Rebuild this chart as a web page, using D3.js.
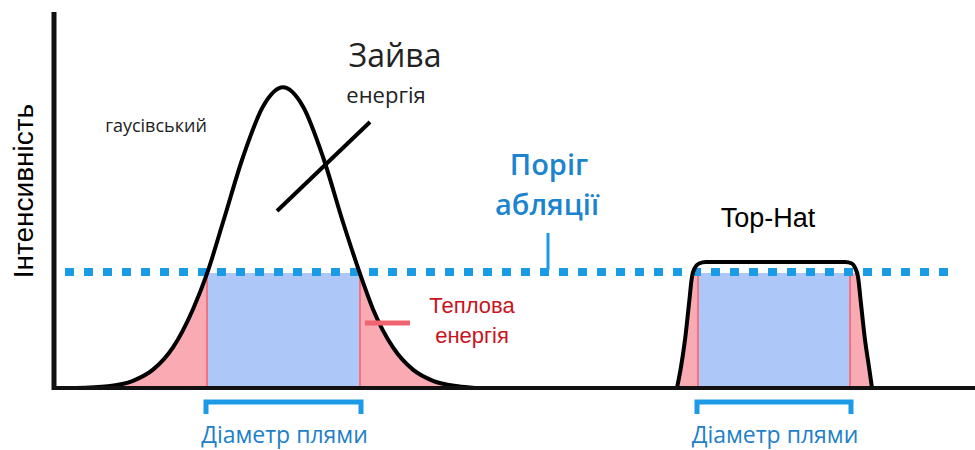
<!DOCTYPE html>
<html><head><meta charset="utf-8">
<script src="https://cdn.jsdelivr.net/npm/d3@7"></script>
<style>html,body{margin:0;padding:0;background:#fff;}svg{display:block;}</style>
</head><body>
<svg id="chart" width="975" height="450"></svg>
<script>
// ---- data (x: position, y: relative intensity) ----
const gaussX = [20, 53, 78, 98, 118, 138, 152, 168, 188, 208, 228, 248, 268, 288, 305, 318, 338, 358, 378, 403, 420];
const gaussY = [0, 0.006, 0.024, 0.061, 0.135, 0.262, 0.38, 0.551, 0.768, 0.936, 1.0, 0.936, 0.768, 0.551, 0.38, 0.262, 0.135, 0.061, 0.024, 0.006, 0];
const hatX = [622, 626, 630, 634, 637, 640, 644, 651, 720, 790, 797, 800, 803, 806, 810, 814, 817];
const hatY = [0, 0.07, 0.16, 0.28, 0.37, 0.400, 0.414, 0.419, 0.419, 0.419, 0.414, 0.400, 0.37, 0.28, 0.16, 0.07, 0];
const threshold = 0.382;
const spotGauss = [152, 305];
const spotHat = [643, 795];
const axisLabel = "Інтенсивність";
const labels = {
  gauss: "гаусівський", excess1: "Зайва", excess2: "енергія",
  thr1: "Поріг", thr2: "абляції", hat: "Top-Hat",
  heat1: "Теплова", heat2: "енергія", spot: "Діаметр плями"
};

const svg = d3.select("#chart");
const x = d3.scaleLinear().domain([0, 920]).range([55, 975]);
const y = d3.scaleLinear().domain([0, 1.25]).range([388, 12]);

const blueDash = "#1b9ae6", pinkFill = "#f9aab3", pinkEdge = "#f27480", blueFill = "#adc8f8";

svg.append("clipPath").attr("id", "below")
  .append("rect").attr("x", 0).attr("y", y(threshold)).attr("width", 975).attr("height", y(0) - y(threshold));

const gauss = gaussX.map((d, i) => [d, gaussY[i]]);
const hat = hatX.map((d, i) => [d, hatY[i]]);

const area = d3.area().x(d => x(d[0])).y0(y(0)).y1(d => y(d[1])).curve(d3.curveMonotoneX);
const line = d3.line().x(d => x(d[0])).y(d => y(d[1])).curve(d3.curveMonotoneX);

[gauss, hat].forEach(s => {
  svg.append("path").datum(s).attr("d", area).attr("fill", pinkFill).attr("clip-path", "url(#below)");
});
[spotGauss, spotHat].forEach(s => {
  svg.append("rect").attr("x", x(s[0])).attr("y", y(threshold)).attr("width", x(s[1]) - x(s[0]))
    .attr("height", y(0) - y(threshold)).attr("fill", blueFill);
  s.forEach(v => svg.append("line").attr("x1", x(v)).attr("x2", x(v)).attr("y1", y(threshold)).attr("y2", y(0))
    .attr("stroke", pinkEdge).attr("stroke-width", 2));
});

svg.append("line").attr("x1", x(10)).attr("x2", x(896)).attr("y1", y(threshold) - 1).attr("y2", y(threshold) - 1)
  .attr("stroke", blueDash).attr("stroke-width", 8).attr("stroke-dasharray", "9,10");

[gauss, hat].forEach(s => {
  svg.append("path").datum(s).attr("d", line).attr("fill", "none").attr("stroke", "#000")
    .attr("stroke-width", 4).attr("stroke-linejoin", "round").attr("stroke-linecap", "round");
});

svg.append("line").attr("x1", x(0) - 1).attr("x2", x(0) - 1).attr("y1", y(1.25)).attr("y2", y(0) + 2)
  .attr("stroke", "#111").attr("stroke-width", 5);
svg.append("line").attr("x1", x(-2)).attr("x2", x(920)).attr("y1", y(0)).attr("y2", y(0))
  .attr("stroke", "#111").attr("stroke-width", 4);

[spotGauss, spotHat].forEach(s => {
  const x0 = x(s[0]) - 1, x1 = x(s[1]) + 1;
  svg.append("path").attr("d", `M${x0},414 L${x0},402 L${x1},402 L${x1},414`)
    .attr("fill", "none").attr("stroke", blueDash).attr("stroke-width", 5);
  svg.append("text").attr("x", (x0 + x1) / 2 + 1).attr("y", 443).attr("text-anchor", "middle")
    .attr("font-family", "'Open Sans', sans-serif").attr("font-size", 23).attr("fill", "#1d80c8").text(labels.spot);
});

svg.append("line").attr("x1", 370).attr("y1", 122).attr("x2", 277).attr("y2", 211)
  .attr("stroke", "#000").attr("stroke-width", 4);
svg.append("line").attr("x1", 365).attr("y1", 323).attr("x2", 410).attr("y2", 323)
  .attr("stroke", "#f06470").attr("stroke-width", 5);
svg.append("line").attr("x1", 548).attr("y1", 233).attr("x2", 548).attr("y2", 270)
  .attr("stroke", blueDash).attr("stroke-width", 3);

function txt(t, cx, by, size, fill, family, weight) {
  svg.append("text").attr("x", cx).attr("y", by).attr("text-anchor", "middle")
    .attr("font-family", family).attr("font-size", size).attr("fill", fill)
    .attr("font-weight", weight || 400).text(t);
}
const OS = "'Open Sans', sans-serif", LS = "'Liberation Sans', Arial, sans-serif";
txt(labels.excess1, 395, 67, 32, "#222", OS);
txt(labels.excess2, 386, 103, 22, "#222", OS);
txt(labels.gauss, 156, 132, 18, "#222", OS);
txt(labels.thr1, 549, 175, 29, "#1c84cf", OS, 600);
txt(labels.thr2, 547, 215, 29, "#1c84cf", OS, 600);
txt(labels.hat, 768, 227, 27, "#000", LS);
txt(labels.heat1, 472, 313, 22, "#c8141e", LS);
txt(labels.heat2, 472, 343, 22, "#c8141e", LS);

svg.append("text").attr("transform", "translate(33,191) rotate(-90)").attr("text-anchor", "middle")
  .attr("font-family", LS).attr("font-size", 28).attr("fill", "#000").text(axisLabel);
</script>
</body></html>
